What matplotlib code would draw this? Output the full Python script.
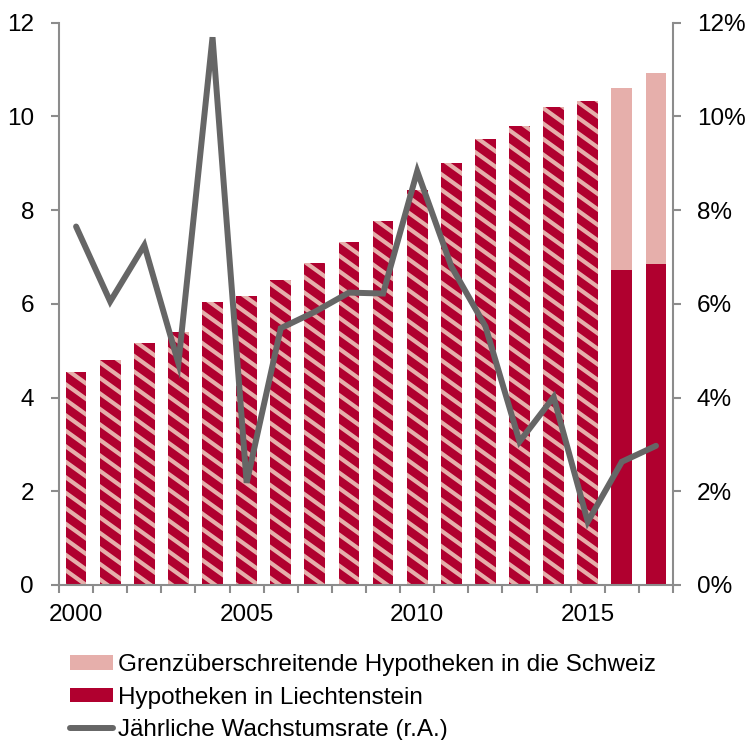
import matplotlib
matplotlib.use("Agg")
import matplotlib.pyplot as plt
import matplotlib.transforms as mtrans
from matplotlib.collections import LineCollection
from matplotlib.patches import Patch
from matplotlib.lines import Line2D
import numpy as np

years = list(range(2000, 2018))
# Hypotheken in Liechtenstein (Mrd.) - hatched for 2000-2015, solid for 2016-2017
liechtenstein = [4.54, 4.80, 5.16, 5.40, 6.04, 6.17, 6.50, 6.88, 7.31, 7.77,
                 8.43, 9.00, 9.52, 9.80, 10.20, 10.33, 6.73, 6.85]
# Grenzüberschreitende Hypotheken in die Schweiz (only separately shown 2016-2017)
schweiz = [0, 0, 0, 0, 0, 0, 0, 0, 0, 0, 0, 0, 0, 0, 0, 0, 3.87, 4.08]
# Jährliche Wachstumsrate (%), right axis
growth = [7.65, 6.05, 7.25, 4.73, 11.69, 2.18, 5.48, 5.83, 6.24, 6.22,
          8.83, 6.80, 5.52, 3.06, 4.01, 1.35, 2.63, 2.97]
hatched_years = years[:16]

left_ticks = [0, 2, 4, 6, 8, 10, 12]
right_ticks = [0, 2, 4, 6, 8, 10, 12]
right_labels = ["0%", "2%", "4%", "6%", "8%", "10%", "12%"]
xlabels = [2000, 2005, 2010, 2015]

RED = "#B0002F"
PINK = "#E6AFAB"
GRAY = "#666666"
SPINE = "#8C8C8C"
FS = 17.5

plt.rcParams['font.family'] = ['Liberation Sans', 'DejaVu Sans']

fig = plt.figure(figsize=(7.51, 7.40), dpi=100)
ax = fig.add_axes([0.0786, 0.2095, 0.8176, 0.7598])
ax.set_xlim(1999.5, 2017.5)
ax.set_ylim(0, 12)

w = 0.61
hatched_patches = []
for i, y in enumerate(years):
    if y in hatched_years:
        b = ax.bar(y, liechtenstein[i], width=w, color=RED, linewidth=0, zorder=2)
        hatched_patches.append(b.patches[0])
    else:
        ax.bar(y, liechtenstein[i], width=w, color=RED, linewidth=0, zorder=2)
        ax.bar(y, schweiz[i], bottom=liechtenstein[i], width=w, color=PINK,
               linewidth=0, zorder=2)

# diagonal stripe pattern (decoration), drawn in pixel space and clipped to bars
fw, fh = fig.get_size_inches() * fig.dpi
slope = 0.72     # stripes fall to the right
spacing = 15.5   # vertical distance between stripes, px
xa, xb = 0.0, fw
offsets = np.arange(0, fh + slope * fw + spacing, spacing)
segs = [[(xa, c - slope * xa), (xb, c - slope * xb)] for c in offsets]
for p in hatched_patches:
    lc = LineCollection(segs, colors=PINK, linewidths=3.0,
                        transform=mtrans.IdentityTransform(), zorder=2.1)
    ax.add_collection(lc, autolim=False)
    lc.set_clip_path(p)

ax.set_yticks(left_ticks)
ax.set_yticklabels([str(t) for t in left_ticks])
ax.set_xticks(xlabels)
ax.set_xticklabels([str(x) for x in xlabels])
ax.set_xticks(np.arange(1999.5, 2018.0, 1.0), minor=True)
ax.tick_params(axis='x', which='major', length=0, pad=14, labelsize=FS)
ax.tick_params(axis='x', which='minor', length=6, width=1.5, color=SPINE)
ax.tick_params(axis='y', length=6, width=1.5, color=SPINE, labelsize=FS, pad=12)
ax.set_xlim(1999.5, 2017.5)
ax.set_ylim(0, 12)

for s in ['top', 'right']:
    ax.spines[s].set_visible(False)
for s in ['left', 'bottom']:
    ax.spines[s].set_color(SPINE)
    ax.spines[s].set_linewidth(1.5)

ax2 = ax.twinx()
ax2.plot(years, growth, color=GRAY, linewidth=4.3, solid_capstyle='round',
         solid_joinstyle='miter', zorder=3)
ax2.set_ylim(0, 12)
ax2.set_yticks(right_ticks)
ax2.set_yticklabels(right_labels)
ax2.tick_params(axis='y', length=6, width=1.5, color=SPINE, labelsize=FS, pad=11)
for s in ['top', 'left', 'bottom']:
    ax2.spines[s].set_visible(False)
ax2.spines['right'].set_color(SPINE)
ax2.spines['right'].set_linewidth(1.5)

handles = [Patch(facecolor=PINK, edgecolor='none'),
           Patch(facecolor=RED, edgecolor='none'),
           Line2D([0], [0], color=GRAY, linewidth=4.3, solid_capstyle='round')]
labels = ["Grenzüberschreitende Hypotheken in die Schweiz",
          "Hypotheken in Liechtenstein",
          "Jährliche Wachstumsrate (r.A.)"]
fig.legend(handles, labels, loc='upper left', bbox_to_anchor=(0.093, 0.116),
           frameon=False, fontsize=FS, handlelength=1.77, handleheight=0.53,
           handletextpad=0.2, labelspacing=0.43, borderaxespad=0, borderpad=0)

fig.savefig("out.png", dpi=100)
